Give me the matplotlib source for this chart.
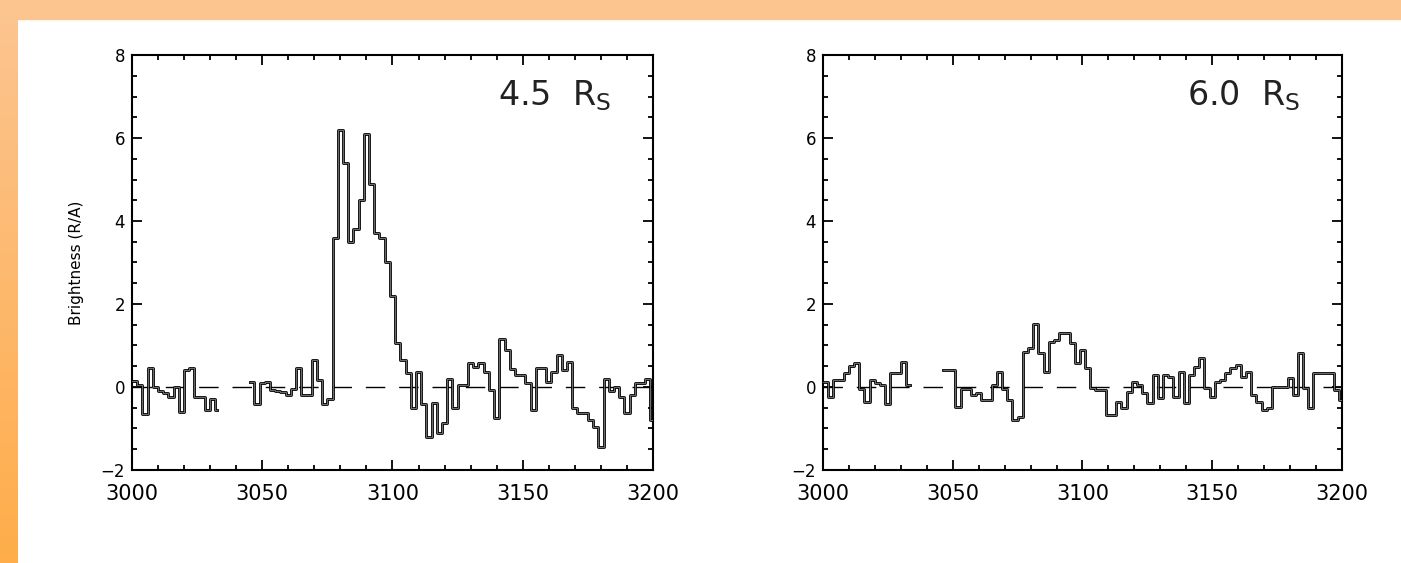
import numpy as np
import matplotlib
matplotlib.use("Agg")
from matplotlib import pyplot as plt
from matplotlib.ticker import MultipleLocator
from matplotlib.patches import Rectangle

# bin width of the spectra (Angstrom)
BIN = 2.0
X_MIN, X_MAX = 3000, 3200

# panel 1 : 4.5 R_S
p1_seg1_start, p1_seg1_end = 3000, 3032.8
p1_seg1 = [0.15, 0.05, -0.65, 0.45, 0.0, -0.1, -0.15, -0.25, 0.0, -0.6,
           0.4, 0.45, -0.25, -0.25, -0.55, -0.3, -0.55]
p1_seg2_start, p1_seg2_end = 3045.3, 3200
p1_seg2 = [0.12, -0.4, 0.1, 0.12, -0.08, -0.1, -0.12, -0.2, -0.05, 0.45,
           -0.2, -0.2, 0.65, 0.17, -0.4, -0.3,
           3.6, 6.2, 5.4, 3.5, 3.8, 4.5, 6.1, 4.9, 3.7, 3.6,
           3.0, 2.2, 1.05, 0.65, 0.33, -0.51,
           0.37, -0.4, -1.2, -0.39, -1.1, -0.87, 0.2, -0.5, 0.05, 0.05,
           0.57, 0.49, 0.57, 0.37, -0.07, -0.75,
           1.16, 0.88, 0.44, 0.28, 0.29, 0.1, -0.55, 0.45, 0.45, 0.13,
           0.37, 0.77, 0.4, 0.61, -0.51, -0.63,
           -0.63, -0.8, -0.96, -1.44, 0.2, -0.1, 0.0, -0.24, -0.63, -0.19,
           0.09, 0.09, 0.2, -0.8]

# panel 2 : 6.0 R_S
p2_seg1_start, p2_seg1_end = 3000, 3033.5
p2_seg1 = [0.12, -0.24, 0.17, 0.17, 0.33, 0.5, 0.57, -0.04, -0.35, 0.17,
           0.1, 0.05, -0.4, 0.33, 0.33, 0.61, 0.05]
p2_seg2_start, p2_seg2_end = 3046.4, 3200
p2_seg2 = [0.4, 0.4, 0.4, -0.48, -0.04, -0.04, -0.19, -0.15, -0.31, -0.31,
           0.05, 0.37, -0.04, -0.31, -0.8, -0.72,
           0.85, 0.95, 1.53, 0.81, 0.37, 1.09, 1.13, 1.3, 1.3, 1.06,
           0.57, 0.89, 0.45, -0.03, -0.07, -0.07,
           -0.67, -0.67, -0.35, -0.51, -0.11, 0.13, 0.05, -0.15, -0.39, 0.29,
           -0.27, 0.29, 0.25, -0.23, 0.37, -0.39,
           0.29, 0.49, 0.69, -0.03, -0.23, 0.13, 0.17, 0.33, 0.45, 0.53,
           0.25, 0.37, -0.19, -0.35, -0.55, -0.51,
           0.0, 0.0, 0.0, 0.21, -0.19, 0.81, -0.03, -0.51, 0.33, 0.33,
           0.33, 0.33, -0.07, -0.31]

labels = ["4.5  R$_{\\rm S}$", "6.0  R$_{\\rm S}$"]


def seg_edges(start, end, n, grid0):
    # bin edges on a 2 A grid starting at grid0, clipped to the segment
    edges = grid0 + BIN * np.arange(n + 1)
    return np.clip(edges, start, end)


def draw_steps(ax, start, end, vals, grid0):
    edges = seg_edges(start, end, len(vals), grid0)
    y = np.append(vals, vals[-1])
    ax.step(edges, y, where="post", color="black", lw=2.0, zorder=3)
    ax.step(edges, y, where="post", color="#9a9a9a", lw=0.5, zorder=4)


def style_axes(ax):
    ax.set_xlim(X_MIN, X_MAX)
    ax.set_ylim(-2, 8)
    ax.set_xticks([3000, 3050, 3100, 3150, 3200])
    ax.set_yticks([-2, 0, 2, 4, 6, 8])
    ax.set_yticklabels(["\u22122", "0", "2", "4", "6", "8"])
    ax.xaxis.set_minor_locator(MultipleLocator(10))
    ax.yaxis.set_minor_locator(MultipleLocator(0.5))
    ax.tick_params(which="both", direction="in", top=True, right=True, width=1.3)
    ax.tick_params(which="major", length=7)
    ax.tick_params(which="minor", length=3.5)
    ax.tick_params(axis="x", which="major", labelsize=15, pad=10)
    ax.tick_params(axis="y", which="major", labelsize=12, pad=5)
    for s in ax.spines.values():
        s.set_linewidth(1.5)
    ax.axhline(0, color="black", lw=1.0, dashes=(14, 10), zorder=2)


fig = plt.figure(figsize=(14.01, 5.63), dpi=100)
fig.patch.set_facecolor("white")

# orange frame at top and left
fig.patches.append(Rectangle((0, 1 - 19 / 563), 1, 19 / 563, transform=fig.transFigure,
                             color="#fcc48f", zorder=0))
band = fig.add_axes([0, 0, 18 / 1401, 1 - 19 / 563])
band.imshow(np.linspace(0, 1, 100).reshape(-1, 1), aspect="auto",
            cmap=matplotlib.colors.LinearSegmentedColormap.from_list("o", ["#fcc48f", "#ffad4a"]))
band.axis("off")

ax1 = fig.add_axes([0.0942, 0.1652, 0.3719, 0.7371])
ax2 = fig.add_axes([0.5874, 0.1652, 0.3705, 0.7371])

draw_steps(ax1, p1_seg1_start, p1_seg1_end, p1_seg1, 3000)
draw_steps(ax1, p1_seg2_start, p1_seg2_end, p1_seg2, 3045)
draw_steps(ax2, p2_seg1_start, p2_seg1_end, p2_seg1, 3000)
draw_steps(ax2, p2_seg2_start, p2_seg2_end, p2_seg2, 3045)

for ax, lab in zip([ax1, ax2], labels):
    style_axes(ax)
    ax.text(0.92, 0.945, lab, transform=ax.transAxes, ha="right", va="top",
            fontsize=24, color="#222222")

ax1.set_ylabel("Brightness (R/A)", fontsize=11, labelpad=12)

fig.savefig("out.png", dpi=100)
